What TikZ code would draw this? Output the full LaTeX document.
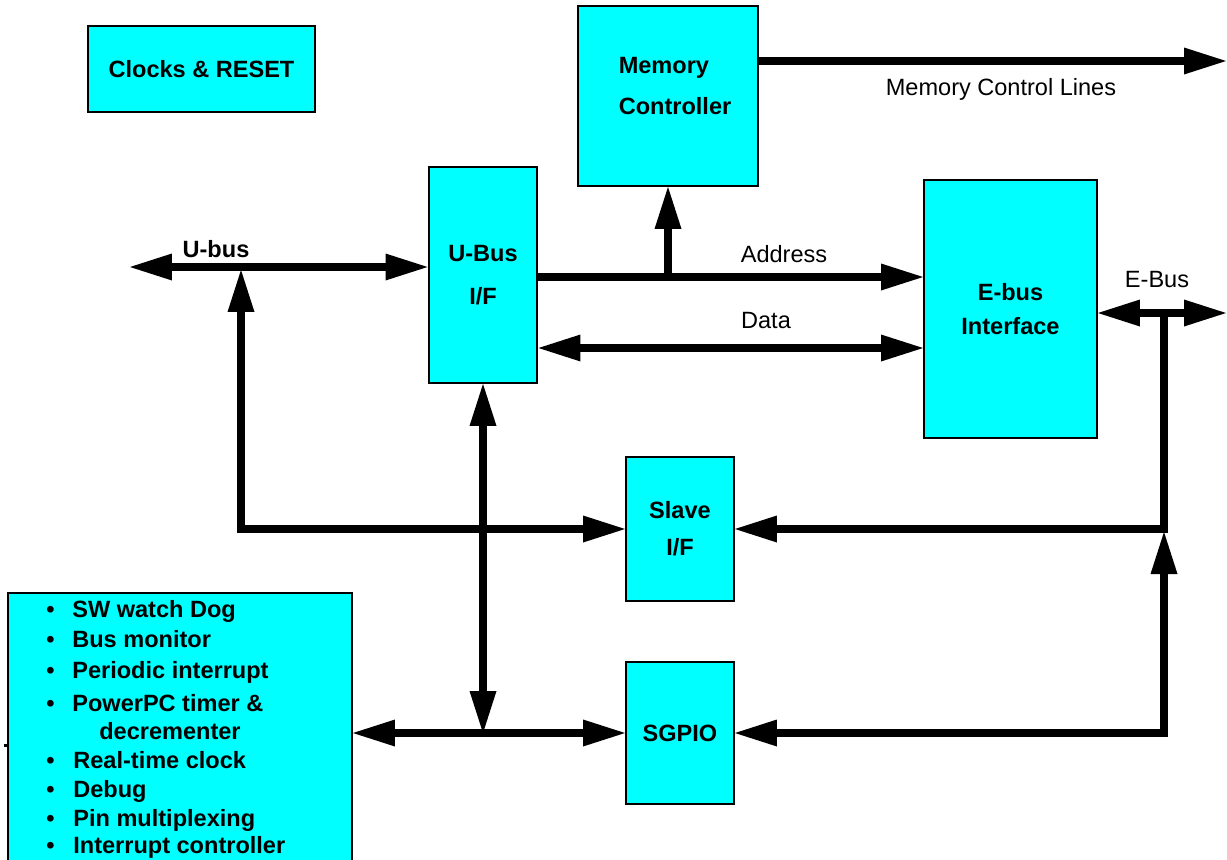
\documentclass[tikz,border=0pt]{standalone}
\usepackage{fontspec}
\setmainfont{Liberation Sans}
\usetikzlibrary{arrows.meta,positioning,calc}
\definecolor{blockcyan}{RGB}{0,255,255}

\begin{document}
\begin{tikzpicture}[x=0.02cm, y=-0.02cm,
    >={Triangle[length=0.84cm,width=0.54cm,line width=0pt]},
    block/.style={draw=black, line width=0.04cm, fill=blockcyan, inner sep=0pt,
                  font=\fontsize{13.4}{16}\selectfont\bfseries, align=center},
    bus/.style={line width=0.15cm},
    lbl/.style={font=\fontsize{13.4}{16}\selectfont, anchor=base, inner sep=0pt},
    listitem/.style={font=\fontsize{13.4}{16}\selectfont\bfseries, anchor=base west, inner sep=0pt}]

    \useasboundingbox (0,0) rectangle (1227,859);

    % Blocks
    \node[block, minimum width=4.54cm, minimum height=1.72cm] (clocks) at (201.5,69) {Clocks \& RESET};
    \node[block, minimum width=3.6cm, minimum height=3.6cm] (memctl) at (668,96) {};
    \node[block, draw=none, fill=none, align=left,
          font=\fontsize{13.4}{23.2}\selectfont\bfseries] (memtxt) at (675,86) {Memory\\Controller};
    \node[block, minimum width=2.18cm, minimum height=4.32cm,
          font=\fontsize{13.4}{24.4}\selectfont\bfseries] (ubusif) at (483,275) {U-Bus\\I/F};
    \node[block, minimum width=3.46cm, minimum height=5.16cm,
          font=\fontsize{13.4}{19.3}\selectfont\bfseries] (ebus) at (1010.5,309) {E-bus\\Interface};
    \node[block, minimum width=2.16cm, minimum height=2.88cm,
          font=\fontsize{13.4}{21}\selectfont\bfseries] (slave) at (680,529) {Slave\\I/F};
    \node[block, minimum width=2.16cm, minimum height=2.86cm] (sgpio) at (680,733) {SGPIO};
    \node[block, minimum width=6.88cm, minimum height=5.64cm] (periph) at (180,734) {};

    % Peripheral list
    \foreach \y/\x/\t [count=\i] in {617/72/SW watch Dog, 647/72/Bus monitor,
                                     678/72/Periodic interrupt, 711/72/PowerPC timer \&,
                                     768/73/Real-time clock, 797/73/Debug,
                                     826/73/Pin multiplexing, 853/73/Interrupt controller} {
        \node[listitem] (bul\i) at (46,\y) {\textbullet};
        \node[listitem] (item\i) at (\x,\y) {\t};
    }
    \node[listitem] (item4b) at (99,739) {decrementer};
    \fill (4,744) rectangle (7,747);

    % U-bus
    \coordinate (ubusend) at (130,267);
    \coordinate (ujoin) at (241,270);
    \draw[bus,<->] (ubusend) -- (ubusif.west |- ubusend);
    \draw[bus,<->] (ujoin) |- (slave.west);
    \node[lbl, font=\fontsize{13.4}{16}\selectfont\bfseries] (ubuslbl) at (216,257) {U-bus};

    % Address and data
    \coordinate (addrrow) at (0,277);
    \coordinate (datarow) at (0,348);
    \draw[bus,->] (ubusif.east |- addrrow) -- (ebus.west |- addrrow);
    \draw[bus,->] (memctl.south |- addrrow) -- (memctl.south);
    \draw[bus,<->] (ubusif.east |- datarow) -- (ebus.west |- datarow);
    \node[lbl] (addrlbl) at (784,262) {Address};
    \node[lbl] (datalbl) at (766,328) {Data};

    % Memory control lines
    \coordinate (mclend) at (1226,61);
    \draw[bus,->] (memctl.east |- mclend) -- (mclend);
    \node[lbl] (mcllbl) at (1001,95) {Memory Control Lines};

    % E-Bus
    \coordinate (ebusend) at (1226,313);
    \coordinate (ejoin) at (1164,313);
    \coordinate (etip) at (1164,532);
    \draw[bus,<->] (ebus.east |- ebusend) -- (ebusend);
    \draw[bus,->] (ejoin) |- (slave.east);
    \draw[bus,<->] (sgpio.east) -| (etip);
    \node[lbl] (ebuslbl) at (1157,287) {E-Bus};

    % U-Bus I/F to SGPIO and peripherals
    \draw[bus,<->] (ubusif.south) -- (ubusif.south |- sgpio.west);
    \draw[bus,<->] (periph.east |- sgpio.west) -- (sgpio.west);

\end{tikzpicture}
\end{document}
